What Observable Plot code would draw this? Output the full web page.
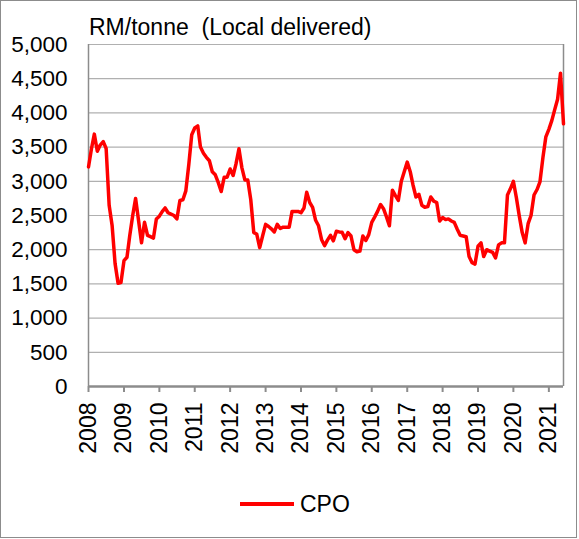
<!DOCTYPE html>
<html>
<head>
<meta charset="utf-8">
<script src="https://cdn.jsdelivr.net/npm/d3@7"></script>
<script src="https://cdn.jsdelivr.net/npm/@observablehq/plot@0.6"></script>
<style>
  html, body { margin: 0; padding: 0; background: #fff; }
  #chart { width: 579px; height: 539px; }
</style>
</head>
<body>
<div id="chart"></div>
<script>
// Monthly CPO price, RM/tonne (local delivered), Jan 2008 – Jun 2021
const startYear = 2008;
const cpo2008 = [3210, 3480, 3690, 3440, 3530, 3580, 3480, 2650, 2350, 1800, 1510, 1520];
const cpo2009 = [1840, 1890, 2200, 2500, 2750, 2420, 2100, 2400, 2210, 2190, 2170, 2450];
const cpo2010 = [2490, 2560, 2610, 2540, 2520, 2500, 2450, 2720, 2730, 2860, 3250, 3680];
const cpo2011 = [3780, 3810, 3500, 3410, 3350, 3300, 3140, 3095, 2980, 2850, 3060, 3060];
const cpo2012 = [3180, 3085, 3250, 3475, 3200, 3020, 3020, 2730, 2250, 2230, 2030, 2200];
const cpo2013 = [2370, 2340, 2305, 2260, 2370, 2310, 2330, 2330, 2330, 2560, 2560, 2560];
const cpo2014 = [2540, 2610, 2840, 2690, 2620, 2430, 2350, 2150, 2060, 2140, 2210, 2130];
const cpo2015 = [2270, 2260, 2256, 2160, 2250, 2200, 2000, 1970, 1980, 2200, 2135, 2220];
const cpo2016 = [2400, 2480, 2560, 2660, 2600, 2480, 2350, 2870, 2790, 2720, 3000, 3140];
const cpo2017 = [3280, 3140, 2950, 2770, 2810, 2650, 2620, 2630, 2770, 2710, 2690, 2420];
const cpo2018 = [2470, 2440, 2450, 2420, 2400, 2300, 2210, 2200, 2190, 1900, 1810, 1790];
const cpo2019 = [2050, 2100, 1900, 2000, 1980, 1960, 1880, 2070, 2100, 2100, 2800, 2890];
const cpo2020 = [3000, 2760, 2500, 2250, 2100, 2380, 2500, 2800, 2880, 2990, 3350, 3650];
const cpo2021 = [3760, 3890, 4040, 4200, 4580, 3840];

const yTicks = [0, 500, 1000, 1500, 2000, 2500, 3000, 3500, 4000, 4500, 5000];
const xTickYears = [2008, 2009, 2010, 2011, 2012, 2013, 2014, 2015, 2016, 2017, 2018, 2019, 2020, 2021];
const titleText = "RM/tonne  (Local delivered)";
const seriesName = "CPO";

const years = [cpo2008, cpo2009, cpo2010, cpo2011, cpo2012, cpo2013, cpo2014,
               cpo2015, cpo2016, cpo2017, cpo2018, cpo2019, cpo2020, cpo2021];
const data = [];
years.forEach((arr, yi) => arr.forEach((v, m) => data.push({date: new Date(Date.UTC(startYear + yi, m, 1)), value: v})));
const xTicks = xTickYears.map(y => new Date(Date.UTC(y, 0, 1)));

const font = "'Liberation Sans', Arial, sans-serif";
const gridColor = "#b0b0b0";
const axisColor = "#8c8c8c";

const chart = Plot.plot({
  width: 579,
  height: 539,
  marginLeft: 88,
  marginRight: 16,
  marginTop: 44,
  marginBottom: 153,
  style: {fontFamily: font, fontSize: "22px", background: "white", color: "black", overflow: "visible"},
  x: {type: "utc", domain: [data[0].date, data[data.length - 1].date], label: null},
  y: {domain: [0, 5000], label: null},
  marks: [
    Plot.gridY(yTicks, {stroke: gridColor, strokeOpacity: 1, strokeWidth: 1.2}),
    Plot.ruleX([data[0].date, data[data.length - 1].date], {stroke: axisColor, strokeWidth: 1.5}),
    Plot.ruleY([0], {stroke: axisColor, strokeWidth: 2.5}),
    Plot.axisY({ticks: yTicks, tickSize: 0, tickPadding: 21, tickFormat: d3.format(","), fontSize: 22.5, fill: "black"}),
    Plot.axisX({ticks: xTicks, tickFormat: d3.utcFormat("%Y"), tickRotate: -90, tickSize: 6, tickPadding: 10,
                stroke: axisColor, strokeWidth: 2, fontSize: 23, fill: "black"}),
    Plot.line(data, {x: "date", y: "value", stroke: "#ff0000", strokeWidth: 3.5, strokeLinejoin: "round"})
  ]
});

document.getElementById("chart").appendChild(chart);

const svg = d3.select(chart);
// outer border
svg.append("rect").attr("x", 0.5).attr("y", 0.5).attr("width", 576).attr("height", 537)
  .attr("fill", "none").attr("stroke", "#8c8c8c").attr("stroke-width", 1);
// title
svg.append("text").attr("x", 89).attr("y", 35).attr("font-family", font).attr("font-size", 23)
  .attr("text-anchor", "start").attr("fill", "black").attr("xml:space", "preserve")
  .style("white-space", "pre").text(titleText);
// legend
svg.append("line").attr("x1", 240).attr("x2", 294).attr("y1", 504).attr("y2", 504)
  .attr("stroke", "#ff0000").attr("stroke-width", 4);
svg.append("text").attr("x", 300).attr("y", 512).attr("font-family", font).attr("font-size", 23)
  .attr("text-anchor", "start").attr("fill", "black").text(seriesName);
</script>
</body>
</html>
